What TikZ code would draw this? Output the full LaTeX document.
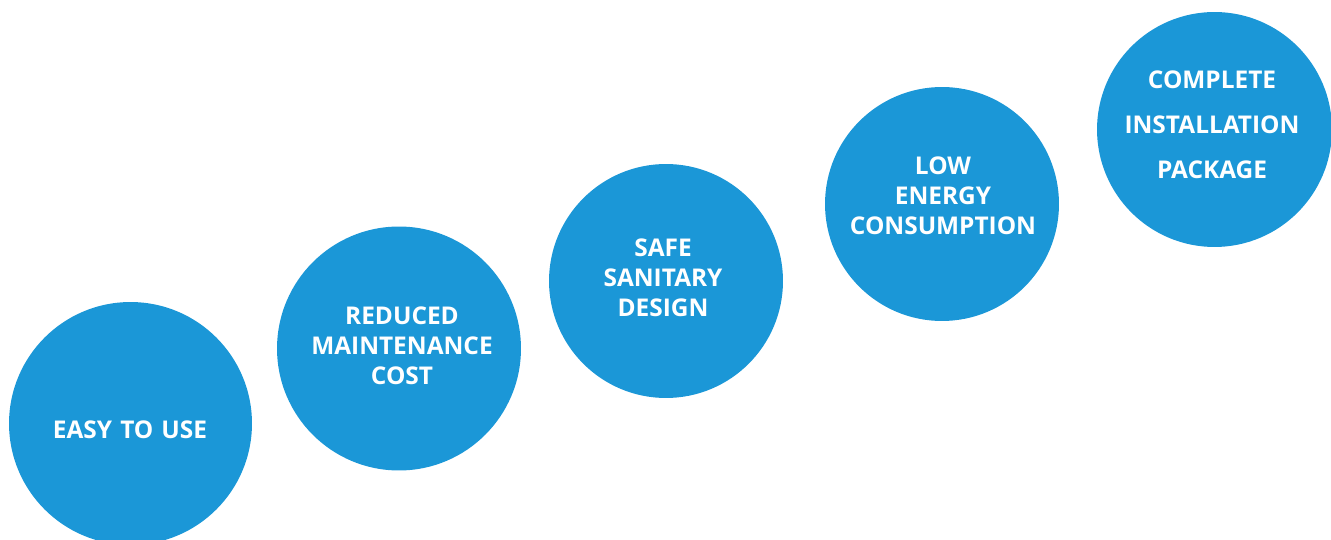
\documentclass[tikz,border=0pt]{standalone}
\usepackage{fontspec}
\setmainfont{Open Sans}
\usepackage{tikz}
\definecolor{dotblue}{HTML}{1B97D7}

\tikzset{
  bigdot/.style={circle, fill=dotblue, draw=none, inner sep=0pt, minimum size=#1},
  dottext/.style={text=white, align=center, font=\fontsize{13.9pt}{17.2pt}\selectfont\bfseries}
}

\begin{document}
\begin{tikzpicture}[x=0.02cm, y=-0.02cm]
  \useasboundingbox (0, 0) rectangle (1331, 540);
  % the five circles
  \node[bigdot=4.86cm] (c1) at (130.5, 423.5) {};
  \node[bigdot=4.88cm] (c2) at (399, 348.5) {};
  \node[bigdot=4.68cm] (c3) at (666, 281) {};
  \node[bigdot=4.68cm] (c4) at (942, 204) {};
  \node[bigdot=4.70cm] (c5) at (1214.5, 129.5) {};
  % their texts
  \node[dottext] (t1) at (130, 430) {EASY\,\,TO\,\,USE};
  \node[dottext] (t2) at (402, 346) {REDUCED\\MAINTENANCE\\COST};
  \node[dottext] (t3) at (663, 278) {SAFE\\SANITARY\\DESIGN};
  \node[dottext] (t4) at (943, 196) {LOW\\ENERGY\\CONSUMPTION};
  \node[dottext, font=\fontsize{13.9pt}{25.5pt}\selectfont\bfseries] (t5) at (1212, 125) {COMPLETE\\INSTALLATION\\PACKAGE};
\end{tikzpicture}
\end{document}
